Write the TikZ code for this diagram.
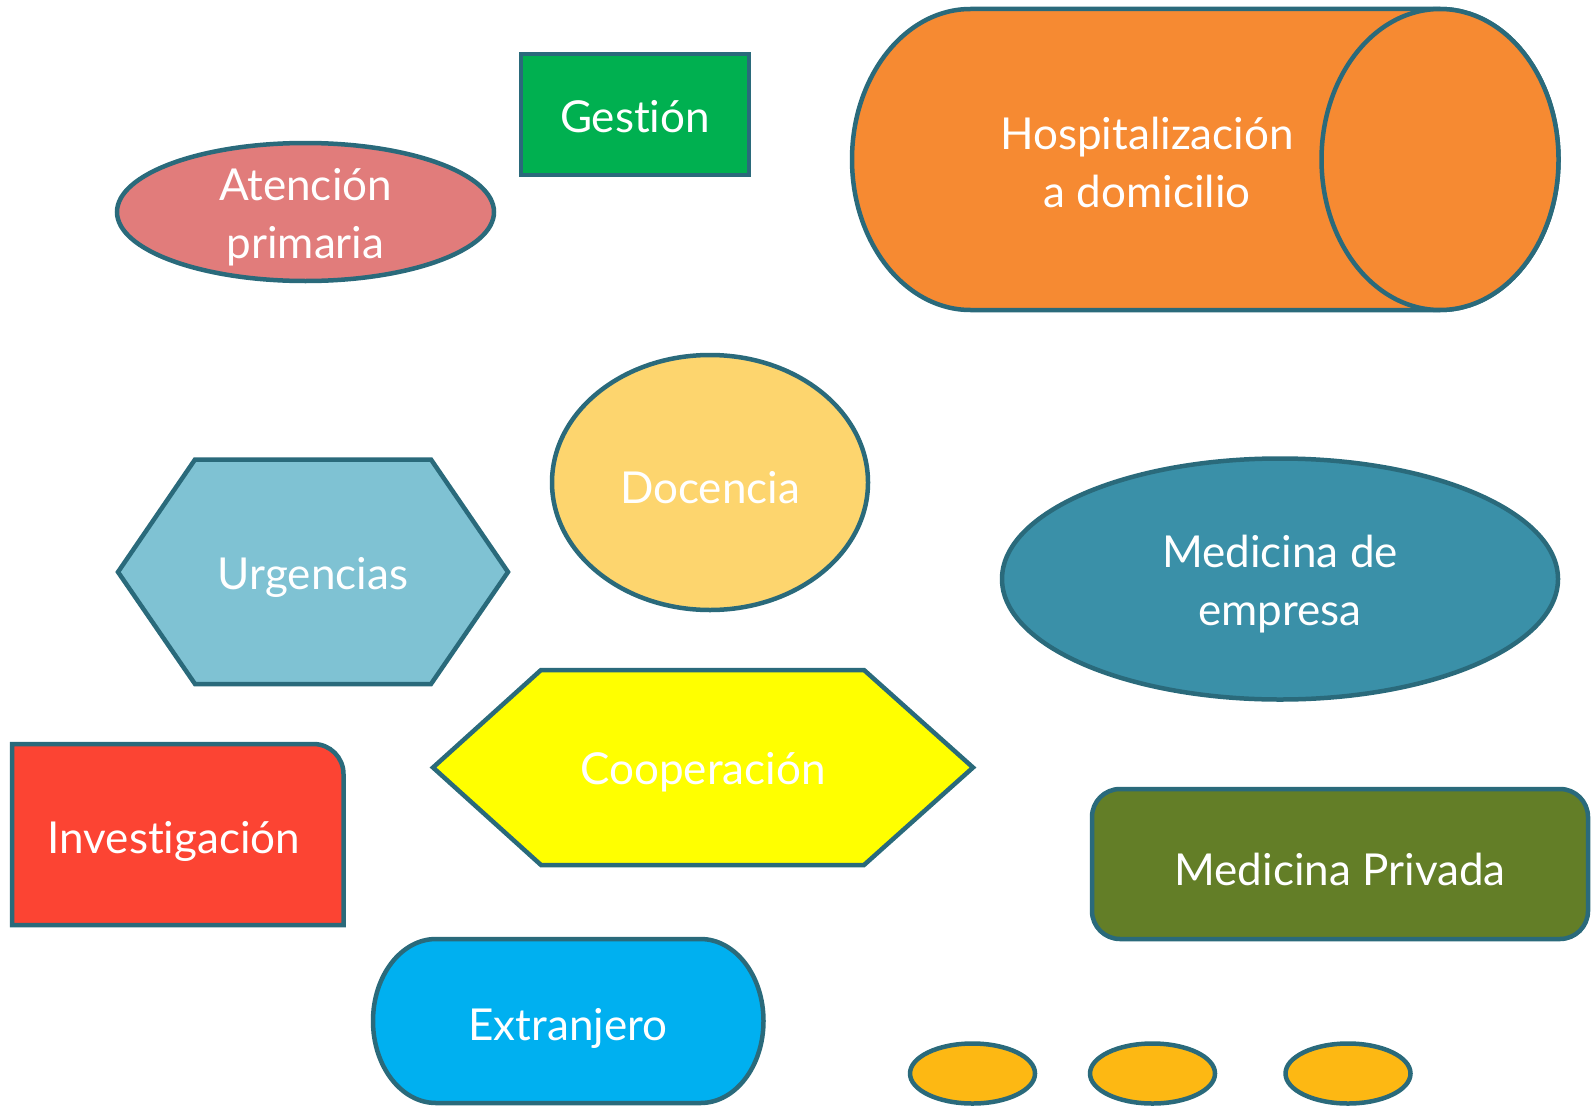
\documentclass[tikz,border=0pt]{standalone}
\usepackage{fontspec}
\setmainfont{Lato}[Ligatures={NoCommon}]
\usetikzlibrary{shapes.geometric}

\definecolor{edge}{HTML}{2A6A7B}
\definecolor{gestion}{HTML}{00B050}
\definecolor{atencion}{HTML}{E17C7B}
\definecolor{hospital}{HTML}{F68A32}
\definecolor{docencia}{HTML}{FDD56E}
\definecolor{urgencias}{HTML}{7FC2D3}
\definecolor{empresa}{HTML}{3A90A8}
\definecolor{cooperacion}{HTML}{FFFF00}
\definecolor{investigacion}{HTML}{FC4433}
\definecolor{privada}{HTML}{637E27}
\definecolor{extranjero}{HTML}{00B0F0}
\definecolor{punto}{HTML}{FDB813}

\begin{document}
\begin{tikzpicture}[x=1pt, y=-1pt,
  outline/.style={draw=edge, line width=4.5pt},
  txt/.style={text=white, font=\fontsize{44}{58}\selectfont, align=center, yshift=-5pt}]
  \useasboundingbox (0,0) rectangle (1594,1105);

  % Ellipses and boxes
  \node[outline, ellipse, fill=atencion, minimum width=377pt, minimum height=138pt] (atencion) at (305.5,212) {};
  \node[outline, rectangle, fill=gestion, minimum width=228pt, minimum height=121pt] (gestion) at (635,114.5) {};
  \node[outline, ellipse, fill=docencia, minimum width=316pt, minimum height=255pt] (docencia) at (710,482.5) {};
  \node[outline, ellipse, fill=empresa, minimum width=556pt, minimum height=241pt] (empresa) at (1280,579) {};
  \node[outline, rectangle, rounded corners=28pt, fill=privada, minimum width=496pt, minimum height=150pt] (privada) at (1340,864) {};
  \node[txt] (atencionText) at (atencion) {Atención\\primaria};
  \node[txt] (gestionText) at ([yshift=3pt]gestion.center) {Gestión};
  \node[txt] (docenciaText) at (docencia) {Docencia};
  \node[txt] (empresaText) at (empresa) {Medicina de\\empresa};
  \node[txt] (privadaText) at (privada) {Medicina Privada};

  % Cylinder
  \draw[outline, fill=hospital] (970.5,9) arc[start angle=270, end angle=90, x radius=118.5, y radius=150.5]
    -- (1440,310) arc[start angle=90, end angle=-90, x radius=118.5, y radius=150.5] -- cycle;
  \draw[outline, fill=hospital] (1440,159.5) ellipse[x radius=118.5, y radius=150.5];
  \node[txt] (hospital) at (1147,157) {Hospitalización\\a domicilio};

  % Hexagons
  \draw[outline, fill=urgencias] (118,572) -- (195,459.5) -- (431,459.5) -- (508,572) -- (431,684) -- (195,684) -- cycle;
  \node[txt] (urgencias) at (313,572) {Urgencias};
  \draw[outline, fill=cooperacion] (433,767.5) -- (541,670) -- (864,670) -- (973,767.5) -- (864,865) -- (541,865) -- cycle;
  \node[txt] (cooperacion) at (703,767.5) {Cooperación};

  % Investigacion
  \draw[outline, fill=investigacion] (12,925) -- (12,744) -- (313.5,744)
    arc[start angle=270, end angle=360, radius=30] -- (343.5,925) -- cycle;
  \node[txt] (investigacion) at (174,836) {Investigación};

  % Extranjero
  \draw[outline, fill=extranjero] (436,939) -- (700.5,939)
    arc[start angle=-90, end angle=90, x radius=63, y radius=82] -- (436,1103)
    arc[start angle=90, end angle=270, x radius=63, y radius=82] -- cycle;
  \node[txt] (extranjero) at (568,1023) {Extranjero};

  % Dots
  \node[outline, ellipse, fill=punto, minimum width=125pt, minimum height=60pt] (p1) at (972.5,1073.5) {};
  \node[outline, ellipse, fill=punto, minimum width=125pt, minimum height=60pt] (p2) at (1152.5,1073.5) {};
  \node[outline, ellipse, fill=punto, minimum width=125pt, minimum height=60pt] (p3) at (1348,1073.5) {};
\end{tikzpicture}
\end{document}
